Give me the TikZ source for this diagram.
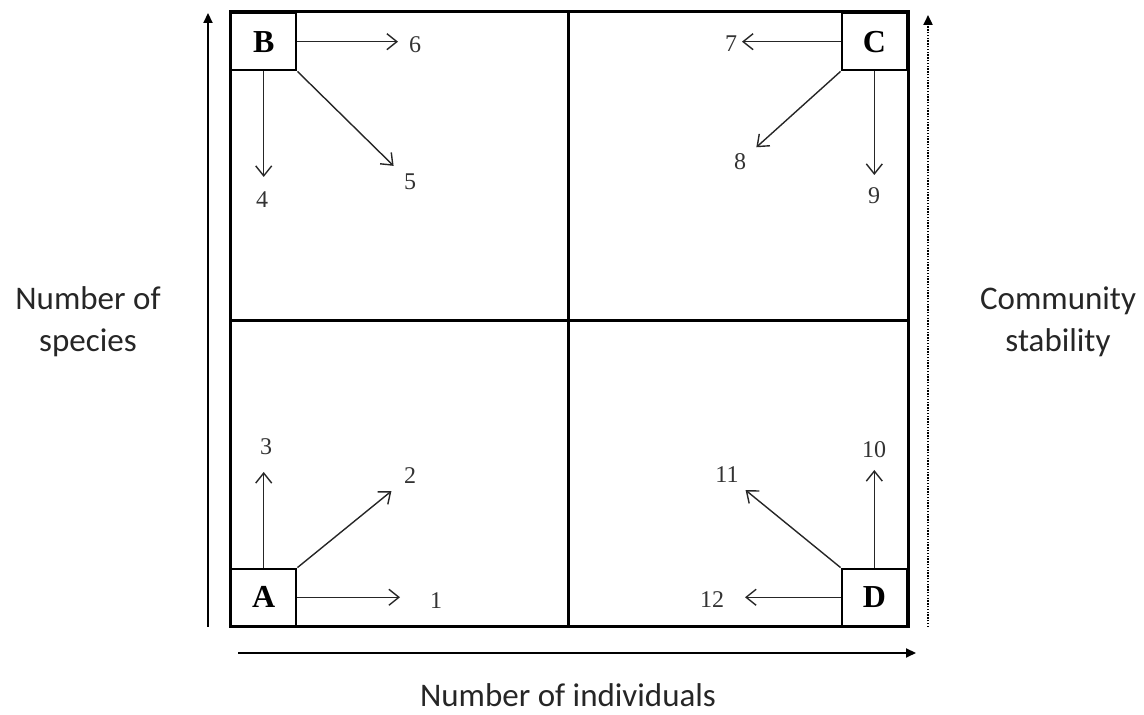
\documentclass[tikz,border=0pt]{standalone}
\usepackage{fontspec}
\setmainfont{Liberation Serif}
\newfontfamily\axisfont{Carlito}
\usetikzlibrary{arrows.meta}
\begin{document}
\begin{tikzpicture}[x=0.5pt, y=0.5pt,
	  corner/.style={draw, line width=1.2pt, minimum width=32.5pt, minimum height=28.5pt, inner sep=0pt, font=\fontsize{16}{18}\selectfont\bfseries},
	  num/.style={inner sep=0pt, font=\fontsize{12}{14}\selectfont, text=black!80},
	  arr/.style={-{Straight Barb[length=5pt, width=8pt]}, line width=0.7pt, black!85},
	  axis/.style={-{Triangle[length=5pt, width=4.5pt]}, line width=1pt},
	  axislabel/.style={align=center, font=\axisfont\fontsize{16.5}{21}\selectfont, text=black!85}]
	  \useasboundingbox (0,0) rectangle (1144,715);
	  
	  % frame
	  \draw[line width=1.5pt] (230,88) rectangle (908,703);
	  \draw[line width=1.5pt] (568,88) -- (568,703);
	  \draw[line width=1.5pt] (230,394) -- (908,394);
	  
	  % corner boxes
	  \node[corner, anchor=south west, fill=white] (A) at (230,88) {A};
	  \node[corner, anchor=north west, fill=white] (B) at (230,703) {B};
	  \node[corner, anchor=north east, fill=white] (C) at (908,703) {C};
	  \node[corner, anchor=south east, fill=white] (D) at (908,88) {D};
	  
	  % labels
	  \node[num] (1) at (436,114) {1};
	  \node[num] (2) at (410,239) {2};
	  \node[num] (3) at (266,268) {3};
	  \node[num] (4) at (262,515) {4};
	  \node[num] (5) at (410,533) {5};
	  \node[num] (6) at (415,670) {6};
	  \node[num] (7) at (731,671) {7};
	  \node[num] (8) at (740,553) {8};
	  \node[num] (9) at (874,519) {9};
	  \node[num] (10) at (874,265) {10};
	  \node[num] (11) at (727,240) {11};
	  \node[num] (12) at (712,115) {12};
	  
	  \draw[arr, shorten >=18pt] (A.east) -- (A.east -| 1.center);
	  \draw[arr, shorten >=12pt] (A.north east) -- (2.center);
	  \draw[arr, shorten >=12.5pt] (A.north) -- (A.north |- 3.center);
	  \draw[arr, shorten >=11.5pt] (B.south) -- (B.south |- 4.center);
	  \draw[arr, shorten >=11.5pt] (B.south east) -- (5.center);
	  \draw[arr, shorten >=8.5pt] (B.east) -- (B.east -| 6.center);
	  \draw[arr, shorten >=5.5pt] (C.west) -- (C.west -| 7.center);
	  \draw[arr, shorten >=11pt] (C.south west) -- (8.center);
	  \draw[arr, shorten >=10.5pt] (C.south) -- (C.south |- 9.center);
	  \draw[arr, shorten >=10pt] (D.north) -- (D.north |- 10.center);
	  \draw[arr, shorten >=12pt] (D.north west) -- (11.center);
	  \draw[arr, shorten >=16.5pt] (D.west) -- (D.west -| 12.center);
	  
	  % axes
	  \coordinate (ybot) at (208,88);
	  \coordinate (ytop) at (208,702);
	  \coordinate (xleft) at (238,62);
	  \coordinate (xright) at (916,62);
	  \coordinate (sbot) at (928,88);
	  \coordinate (stop) at (928,700);
	  \draw[axis] (ybot) -- (ytop);
	  \draw[axis] (xleft) -- (xright);
	  \draw[axis, dash pattern=on 0.7pt off 0.7pt, line width=1.1pt] (sbot) -- (stop);
	  
	  \node[axislabel] (species) at (88,393) {Number of\\species};
	  \node[axislabel] (stability) at (1058,393) {Community\\stability};
	  \node[axislabel] (individuals) at (568,20) {Number of individuals};
	\end{tikzpicture}
\end{document}
